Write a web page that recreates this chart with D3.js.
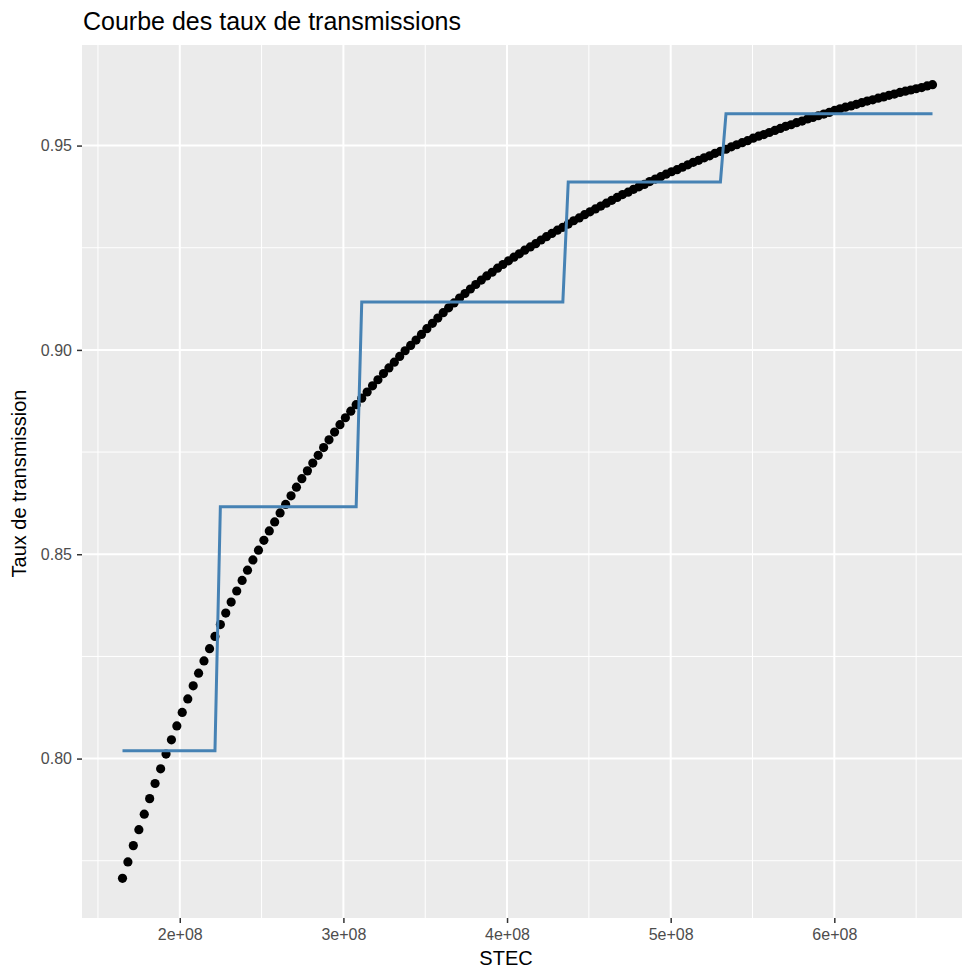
<!DOCTYPE html>
<html>
<head>
<meta charset="utf-8">
<script src="https://cdn.jsdelivr.net/npm/d3@7.9.0/dist/d3.min.js"></script>
<style>
  body { margin: 0; background: #fff; }
  svg { display: block; font-family: "Liberation Sans", Arial, sans-serif; }
  .tick text { fill: #4d4d4d; font-size: 16px; }
  .tick line { stroke: #333; }
</style>
</head>
<body>
<div id="chart"></div>
<script>
// STEC values (points)
const stec = [
  1.650e8, 1.683e8, 1.716e8, 1.750e8, 1.783e8, 1.816e8, 1.849e8, 1.883e8, 1.916e8, 1.949e8,
  1.982e8, 2.015e8, 2.049e8, 2.082e8, 2.115e8, 2.148e8, 2.182e8, 2.215e8, 2.248e8, 2.281e8,
  2.314e8, 2.348e8, 2.381e8, 2.414e8, 2.447e8, 2.481e8, 2.514e8, 2.547e8, 2.580e8, 2.613e8,
  2.647e8, 2.680e8, 2.713e8, 2.746e8, 2.780e8, 2.813e8, 2.846e8, 2.879e8, 2.912e8, 2.946e8,
  2.979e8, 3.012e8, 3.045e8, 3.078e8, 3.112e8, 3.145e8, 3.178e8, 3.211e8, 3.245e8, 3.278e8,
  3.311e8, 3.344e8, 3.377e8, 3.411e8, 3.444e8, 3.477e8, 3.510e8, 3.544e8, 3.577e8, 3.610e8,
  3.643e8, 3.676e8, 3.710e8, 3.743e8, 3.776e8, 3.809e8, 3.843e8, 3.876e8, 3.909e8, 3.942e8,
  3.975e8, 4.009e8, 4.042e8, 4.075e8, 4.108e8, 4.142e8, 4.175e8, 4.208e8, 4.241e8, 4.274e8,
  4.308e8, 4.341e8, 4.374e8, 4.407e8, 4.441e8, 4.474e8, 4.507e8, 4.540e8, 4.573e8, 4.607e8,
  4.640e8, 4.673e8, 4.706e8, 4.740e8, 4.773e8, 4.806e8, 4.839e8, 4.872e8, 4.906e8, 4.939e8,
  4.972e8, 5.005e8, 5.039e8, 5.072e8, 5.105e8, 5.138e8, 5.171e8, 5.205e8, 5.238e8, 5.271e8,
  5.304e8, 5.338e8, 5.371e8, 5.404e8, 5.437e8, 5.470e8, 5.504e8, 5.537e8, 5.570e8, 5.603e8,
  5.637e8, 5.670e8, 5.703e8, 5.736e8, 5.769e8, 5.803e8, 5.836e8, 5.869e8, 5.902e8, 5.936e8,
  5.969e8, 6.002e8, 6.035e8, 6.068e8, 6.102e8, 6.135e8, 6.168e8, 6.201e8, 6.235e8, 6.268e8,
  6.301e8, 6.334e8, 6.367e8, 6.401e8, 6.434e8, 6.467e8, 6.500e8, 6.534e8, 6.567e8, 6.600e8
];

// Taux de transmission (points)
const taux = [
  0.7707, 0.7747, 0.7787, 0.7826, 0.7864, 0.7902, 0.7939, 0.7975, 0.8011, 0.8046,
  0.8080, 0.8113, 0.8146, 0.8178, 0.8209, 0.8239, 0.8269, 0.8299, 0.8328, 0.8356,
  0.8383, 0.8410, 0.8436, 0.8461, 0.8486, 0.8510, 0.8534, 0.8557, 0.8579, 0.8601,
  0.8622, 0.8643, 0.8664, 0.8685, 0.8704, 0.8723, 0.8742, 0.8761, 0.8780, 0.8799,
  0.8817, 0.8834, 0.8850, 0.8866, 0.8882, 0.8897, 0.8912, 0.8927, 0.8942, 0.8956,
  0.8970, 0.8984, 0.8998, 0.9011, 0.9024, 0.9038, 0.9052, 0.9065, 0.9078, 0.9091,
  0.9103, 0.9115, 0.9127, 0.9138, 0.9149, 0.9160, 0.9171, 0.9181, 0.9190, 0.9200,
  0.9209, 0.9218, 0.9227, 0.9235, 0.9244, 0.9252, 0.9260, 0.9269, 0.9277, 0.9285,
  0.9293, 0.9300, 0.9308, 0.9316, 0.9323, 0.9331, 0.9338, 0.9345, 0.9352, 0.9359,
  0.9366, 0.9373, 0.9380, 0.9386, 0.9393, 0.9399, 0.9405, 0.9412, 0.9418, 0.9424,
  0.9430, 0.9436, 0.9441, 0.9447, 0.9453, 0.9459, 0.9464, 0.9470, 0.9475, 0.9481,
  0.9486, 0.9491, 0.9497, 0.9502, 0.9507, 0.9512, 0.9518, 0.9523, 0.9527, 0.9532,
  0.9537, 0.9542, 0.9547, 0.9551, 0.9556, 0.9560, 0.9565, 0.9569, 0.9573, 0.9577,
  0.9581, 0.9586, 0.9590, 0.9594, 0.9597, 0.9601, 0.9605, 0.9609, 0.9612, 0.9616,
  0.9619, 0.9623, 0.9626, 0.9630, 0.9633, 0.9636, 0.9639, 0.9642, 0.9646, 0.9649
];

// step curve (blue line) vertices
const stepStec = [1.650e8, 2.215e8, 2.248e8, 3.078e8, 3.112e8, 4.341e8, 4.374e8, 5.304e8, 5.338e8, 6.600e8];
const stepTaux = [0.8019, 0.8019, 0.8616, 0.8616, 0.9117, 0.9117, 0.9411, 0.9411, 0.9578, 0.9578];

const xTicks = [2e8, 3e8, 4e8, 5e8, 6e8];
const xTickLabels = ['2e+08', '3e+08', '4e+08', '5e+08', '6e+08'];
const xMinor = [1.5e8, 2.5e8, 3.5e8, 4.5e8, 5.5e8, 6.5e8];
const yTicks = [0.80, 0.85, 0.90, 0.95];
const yTickLabels = ['0.80', '0.85', '0.90', '0.95'];
const yMinor = [0.775, 0.825, 0.875, 0.925];

const width = 962;
const height = 969;
const panel = { left: 82, right: 973, top: 45, bottom: 918 };

// ggplot-like 5% expansion
function expand([a, b]) {
  const pad = (b - a) * 0.05;
  return [a - pad, b + pad];
}

const points = stec.map((s, i) => ({ s, t: taux[i] }));
const steps = stepStec.map((s, i) => ({ s, t: stepTaux[i] }));

const xScale = d3.scaleLinear()
  .domain(expand(d3.extent(stec)))
  .range([panel.left, panel.right]);

const yScale = d3.scaleLinear()
  .domain(expand(d3.extent(taux)))
  .range([panel.bottom, panel.top]);

const svg = d3.select('#chart')
  .append('svg')
  .attr('width', width)
  .attr('height', height);

svg.append('rect')
  .attr('width', width).attr('height', height)
  .attr('fill', '#fff');

// panel
svg.append('rect')
  .attr('x', panel.left).attr('y', panel.top)
  .attr('width', panel.right - panel.left)
  .attr('height', panel.bottom - panel.top)
  .attr('fill', '#ebebeb');

const grid = svg.append('g').attr('class', 'grid');

grid.selectAll('line.xminor')
  .data(xMinor)
  .join('line')
  .attr('x1', d => xScale(d)).attr('x2', d => xScale(d))
  .attr('y1', panel.top).attr('y2', panel.bottom)
  .attr('stroke', '#fff').attr('stroke-width', 1);

grid.selectAll('line.yminor')
  .data(yMinor)
  .join('line')
  .attr('y1', d => yScale(d)).attr('y2', d => yScale(d))
  .attr('x1', panel.left).attr('x2', panel.right)
  .attr('stroke', '#fff').attr('stroke-width', 1);

grid.selectAll('line.xmajor')
  .data(xTicks)
  .join('line')
  .attr('x1', d => xScale(d)).attr('x2', d => xScale(d))
  .attr('y1', panel.top).attr('y2', panel.bottom)
  .attr('stroke', '#fff').attr('stroke-width', 2);

grid.selectAll('line.ymajor')
  .data(yTicks)
  .join('line')
  .attr('y1', d => yScale(d)).attr('y2', d => yScale(d))
  .attr('x1', panel.left).attr('x2', panel.right)
  .attr('stroke', '#fff').attr('stroke-width', 2);

// points
svg.append('g')
  .selectAll('circle')
  .data(points)
  .join('circle')
  .attr('cx', d => xScale(d.s))
  .attr('cy', d => yScale(d.t))
  .attr('r', 4.6)
  .attr('fill', '#000');

// step line
const line = d3.line()
  .x(d => xScale(d.s))
  .y(d => yScale(d.t));

svg.append('path')
  .datum(steps)
  .attr('d', line)
  .attr('fill', 'none')
  .attr('stroke', '#4682b4')
  .attr('stroke-width', 3);

// axes
const xAxis = d3.axisBottom(xScale)
  .tickValues(xTicks)
  .tickFormat((d, i) => xTickLabels[i])
  .tickSize(5)
  .tickPadding(6);

svg.append('g')
  .attr('transform', `translate(0, ${panel.bottom})`)
  .call(xAxis)
  .call(g => g.select('.domain').remove())
  .call(g => g.selectAll('.tick line').attr('stroke-width', 1.5));

const yAxis = d3.axisLeft(yScale)
  .tickValues(yTicks)
  .tickFormat((d, i) => yTickLabels[i])
  .tickSize(5)
  .tickPadding(5);

svg.append('g')
  .attr('transform', `translate(${panel.left}, 0)`)
  .call(yAxis)
  .call(g => g.select('.domain').remove())
  .call(g => g.selectAll('.tick line').attr('stroke-width', 1.5));

// titles
svg.append('text')
  .attr('x', 83).attr('y', 30)
  .attr('font-size', 25)
  .attr('fill', '#000')
  .text('Courbe des taux de transmissions');

svg.append('text')
  .attr('x', 506)
  .attr('y', 965)
  .attr('text-anchor', 'middle')
  .attr('font-size', 20)
  .attr('fill', '#000')
  .text('STEC');

svg.append('text')
  .attr('transform', `translate(26, ${(panel.top + panel.bottom) / 2 + 2}) rotate(-90)`)
  .attr('text-anchor', 'middle')
  .attr('font-size', 20)
  .attr('fill', '#000')
  .text('Taux de transmission');
</script>
</body>
</html>
